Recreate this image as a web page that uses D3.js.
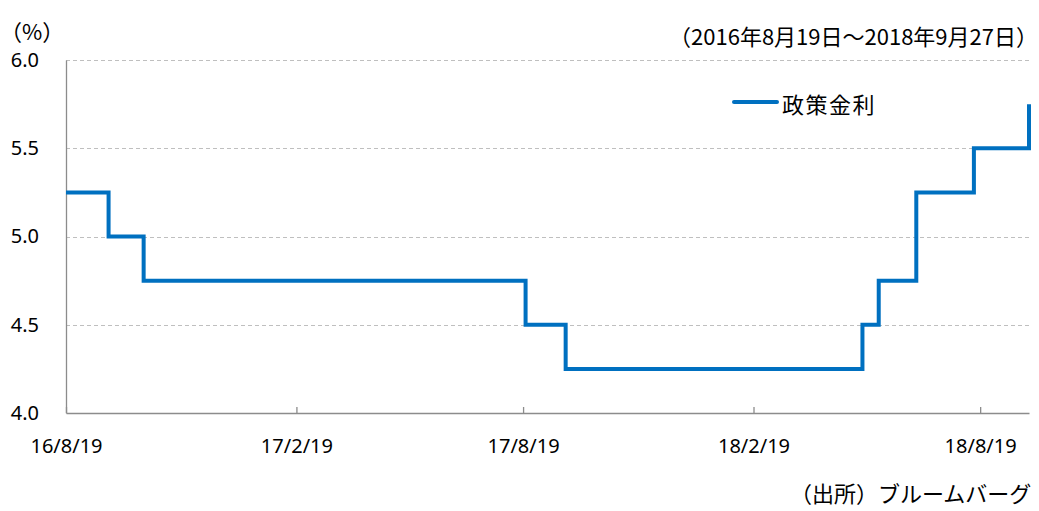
<!DOCTYPE html>
<html>
<head>
<meta charset="utf-8">
<script src="https://cdn.jsdelivr.net/npm/d3@7"></script>
<style>
  body { margin: 0; background: #fff; }
  svg { display: block; }
  .num { font-family: "Noto Sans", "DejaVu Sans", sans-serif; fill: #000; }
  .jp { font-family: "Noto Sans CJK JP", "Noto Sans", sans-serif; fill: #000; }
</style>
</head>
<body>
<svg id="chart" width="1039" height="511"></svg>
<script>
// policy rate change dates and levels (step series)
var change_dates = ["2016-08-19", "2016-09-22", "2016-10-20", "2017-08-21", "2017-09-22",
                    "2018-05-17", "2018-05-30", "2018-06-29", "2018-08-14", "2018-09-27"];
var rate_values = [5.25, 5.00, 4.75, 4.50, 4.25, 4.50, 4.75, 5.25, 5.50, 5.75];
var period_start = "2016-08-19";
var period_end = "2018-09-27";
var x_tick_dates = ["2016-08-19", "2017-02-19", "2017-08-19", "2018-02-19", "2018-08-19"];
var y_tick_values = [4.0, 4.5, 5.0, 5.5, 6.0];
var series_name = "政策金利";
var unit_label = "（%）";
var period_label = "（2016年8月19日～2018年9月27日）";
var source_label = "（出所）ブルームバーグ";

var parse = d3.timeParse("%Y-%m-%d");
var svg = d3.select("#chart");

var plot_left = 66, plot_right = 1029, plot_top = 60, plot_bottom = 413;

var x = d3.scaleTime()
  .domain([parse(period_start), parse(period_end)])
  .range([plot_left, plot_right]);

var y = d3.scaleLinear()
  .domain([4, 6])
  .range([plot_bottom, plot_top]);

// dashed gridlines
svg.append("g")
  .selectAll("line")
  .data(y_tick_values.filter(function(v) { return v > 4; }))
  .enter()
  .append("line")
    .attr("x1", plot_left)
    .attr("x2", plot_right + 1)
    .attr("y1", function(d) { return Math.round(y(d)) + 0.5; })
    .attr("y2", function(d) { return Math.round(y(d)) + 0.5; })
    .attr("stroke", "#bfbfbf")
    .attr("stroke-width", 1)
    .attr("stroke-dasharray", "4,3");

// y axis
var yAxis = svg.append("g")
  .attr("transform", "translate(" + plot_left + ",0)")
  .call(d3.axisLeft(y).tickValues(y_tick_values).tickSize(0).tickPadding(27)
    .tickFormat(d3.format(".1f")));
yAxis.select(".domain").attr("stroke", "#8c8c8c").attr("stroke-width", 1.3);
yAxis.selectAll(".tick text")
  .attr("class", "num")
  .attr("font-size", 20);

// x axis, ticks point up into the plot
var xAxis = svg.append("g")
  .attr("transform", "translate(0," + plot_bottom + ")")
  .call(d3.axisBottom(x)
    .tickValues(x_tick_dates.map(parse))
    .tickSizeInner(-6)
    .tickSizeOuter(0)
    .tickPadding(26)
    .tickFormat(d3.timeFormat("%y/%-m/%-d")));
xAxis.select(".domain").attr("stroke", "#8c8c8c").attr("stroke-width", 1.3);
xAxis.selectAll(".tick line").attr("stroke", "#8c8c8c").attr("stroke-width", 1.3);
xAxis.selectAll(".tick text")
  .attr("class", "num")
  .attr("font-size", 20);

// rate line
var points = change_dates.map(function(d, i) { return [parse(d), rate_values[i]]; });
svg.append("path")
  .datum(points)
  .attr("fill", "none")
  .attr("stroke", "#0070c0")
  .attr("stroke-width", 4)
  .attr("stroke-linejoin", "miter")
  .attr("d", d3.line()
    .curve(d3.curveStepAfter)
    .x(function(d) { return x(d[0]); })
    .y(function(d) { return y(d[1]); }));

// legend
svg.append("line")
  .attr("x1", 734).attr("x2", 777)
  .attr("y1", 102).attr("y2", 102)
  .attr("stroke", "#0070c0")
  .attr("stroke-width", 4)
  .attr("stroke-linecap", "round");
svg.append("text")
  .attr("class", "jp")
  .attr("x", 782).attr("y", 103)
  .attr("dominant-baseline", "central")
  .attr("font-size", 22)
  .attr("letter-spacing", 1.5)
  .text(series_name);

// labels
svg.append("text")
  .attr("class", "jp")
  .attr("x", 0).attr("y", 30)
  .attr("dominant-baseline", "central")
  .attr("font-size", 22)
  .text(unit_label);

svg.append("text")
  .attr("class", "jp")
  .attr("x", 1038).attr("y", 35)
  .attr("text-anchor", "end")
  .attr("dominant-baseline", "central")
  .attr("font-size", 22)
  .text(period_label);

svg.append("text")
  .attr("class", "jp")
  .attr("x", 790).attr("y", 492)
  .attr("dominant-baseline", "central")
  .attr("font-size", 22)
  .text(source_label);
</script>
</body>
</html>
